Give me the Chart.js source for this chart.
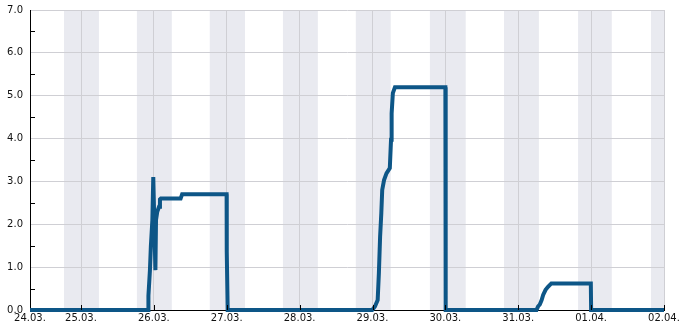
<!DOCTYPE html>
<html>
<head>
<meta charset="utf-8">
<script src="https://cdn.jsdelivr.net/npm/chart.js@4.4.0/dist/chart.umd.min.js"></script>
<style>
  body { margin: 0; background: #fff; }
  #wrap { width: 685px; height: 330px; }
</style>
</head>
<body>
<div id="wrap"><canvas id="myChart" width="685" height="330"></canvas></div>
<script>
// hours since 24.03. 00:00
var hours = [7.2, 46.15, 46.2, 46.7, 47.0, 47.5, 47.8, 48.5, 48.7, 49.1, 49.7, 50.0, 50.3, 56.8, 57.3,
  71.95, 72.0, 72.3, 119.9, 120.8, 121.7, 122.1, 122.5, 122.9, 123.2, 123.8, 124.6, 125.7, 126.1,
  126.3, 126.7, 127.4, 144.0, 144.1, 174.0, 174.5, 175.1, 175.7, 176.2, 177.0, 177.8, 178.9,
  191.9, 192.0, 216];
var values = [0, 0, 0.33, 0.93, 1.48, 2.1, 3.1, 0.93, 2.1, 2.29, 2.41, 2.58, 2.6, 2.6, 2.7,
  2.7, 1.36, 0, 0, 0.08, 0.23, 0.86, 1.71, 2.26, 2.8, 3.03, 3.19, 3.31, 3.97,
  4.59, 5.06, 5.2, 5.2, 0, 0, 0.08, 0.13, 0.23, 0.35, 0.47, 0.54, 0.62,
  0.62, 0, 0];

var xTickHours = [7.2, 24, 48, 72, 96, 120, 144, 168, 192, 216];
var xTickLabels = ['24.03.', '25.03.', '26.03.', '27.03.', '28.03.', '29.03.', '30.03.', '31.03.', '01.04.', '02.04.'];

// night bands [start, end] in hours
var nightStart = [18.4, 42.4, 66.4, 90.5, 114.5, 138.9, 163.3, 187.7, 211.7];
var nightEnd = [29.9, 53.9, 78.0, 102.0, 126.0, 150.7, 174.8, 198.8, 216];

var points = hours.map(function(h, i) {
  return { x: h, y: values[i] };
});

var bandPlugin = {
  id: 'bands',
  beforeDraw: function(chart) {
    var ctx = chart.ctx, x = chart.scales.x, a = chart.chartArea;
    ctx.save();
    ctx.fillStyle = '#e9eaf0';
    for (var i = 0; i < nightStart.length; i++) {
      var x0 = x.getPixelForValue(nightStart[i]);
      var x1 = x.getPixelForValue(nightEnd[i]);
      ctx.fillRect(x0, a.top, x1 - x0, a.bottom - a.top);
    }
    ctx.restore();
  },
  afterDatasetsDraw: function(chart) {
    var ctx = chart.ctx, x = chart.scales.x, y = chart.scales.y, a = chart.chartArea;
    ctx.save();
    ctx.strokeStyle = '#000';
    ctx.lineWidth = 1;
    ctx.beginPath();
    for (var i = 1; i < xTickHours.length; i++) {
      var px = Math.round(x.getPixelForValue(xTickHours[i])) + 0.5;
      ctx.moveTo(px, a.bottom);
      ctx.lineTo(px, a.bottom - 5);
    }
    for (var v = 0.5; v < 7; v += 1) {
      var py = Math.round(y.getPixelForValue(v)) + 0.5;
      ctx.moveTo(a.left, py);
      ctx.lineTo(a.left + 5, py);
    }
    ctx.stroke();
    ctx.restore();
  }
};

var ctx = document.getElementById('myChart').getContext('2d');
var myChart = new Chart(ctx, {
  type: 'line',
  data: {
    datasets: [{
      data: points,
      borderColor: '#0d5687',
      borderWidth: 4,
      pointRadius: 0,
      tension: 0,
      fill: false,
      clip: false
    }]
  },
  options: {
    responsive: false,
    animation: false,
    layout: { padding: { top: 10, right: 21, left: 0, bottom: 0 } },
    plugins: { legend: { display: false }, tooltip: { enabled: false } },
    scales: {
      x: {
        type: 'linear',
        min: 7.2,
        max: 216,
        afterBuildTicks: function(scale) {
          scale.ticks = xTickHours.map(function(h) { return { value: h }; });
        },
        afterFit: function(scale) { scale.height = 20; },
        ticks: {
          autoSkip: false,
          maxRotation: 0,
          padding: 2,
          color: '#111',
          font: { family: 'DejaVu Sans', size: 10 },
          callback: function(v, i) { return xTickLabels[i]; }
        },
        grid: { color: '#cfcfd4', drawTicks: false, tickLength: 0 },
        border: { color: '#000', width: 1 }
      },
      y: {
        min: 0,
        max: 7,
        afterFit: function(scale) {
          scale.width = 30;
          scale.paddingTop = 0;
          scale.paddingBottom = 0;
        },
        ticks: {
          stepSize: 1,
          padding: 7,
          color: '#111',
          font: { family: 'DejaVu Sans', size: 10 },
          callback: function(v) { return v.toFixed(1); }
        },
        grid: { color: '#cfcfd4', drawTicks: false, tickLength: 0 },
        border: { color: '#000', width: 1 }
      }
    }
  },
  plugins: [bandPlugin]
});
</script>
</body>
</html>
